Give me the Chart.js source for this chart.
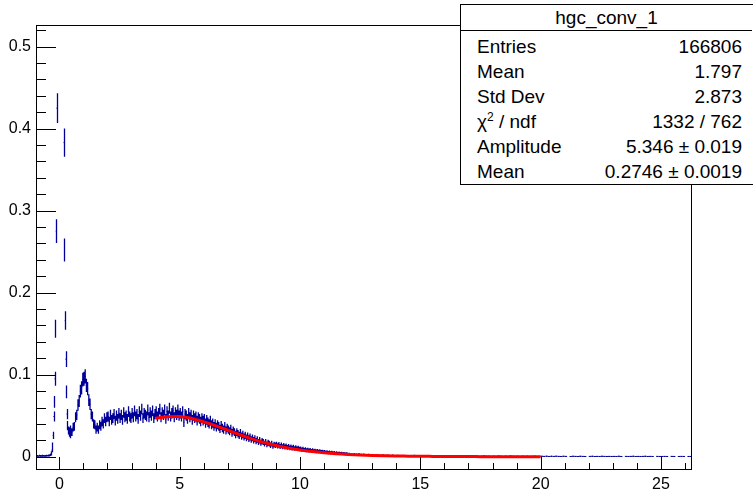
<!DOCTYPE html>
<html>
<head>
<meta charset="utf-8">
<script src="https://cdn.jsdelivr.net/npm/chart.js@4.4.1/dist/chart.umd.min.js"></script>
<style>
  html, body { margin: 0; padding: 0; background: #fff; overflow: hidden; }
  #wrap { position: relative; width: 753px; height: 490px; }
  #stats {
    position: absolute; left: 460px; top: 4px; width: 300px; height: 179px;
    border: 1px solid #000; background: #fff; color: #000;
    font-family: "Liberation Sans", Arial, sans-serif; font-size: 19px;
  }
  #stats .head {
    position: absolute; left: 0; top: 0; width: 291px; height: 25px; line-height: 25px;
    text-align: center; border-bottom: 1px solid #000;
  }
  #stats .lab { position: absolute; left: 16px; height: 25px; line-height: 25px; white-space: nowrap; }
  #stats .val { position: absolute; left: 0; width: 281px; height: 25px; line-height: 25px; text-align: right; white-space: nowrap; }
  #stats sup { font-size: 12px; vertical-align: 7px; line-height: 0; }
</style>
</head>
<body>
<div id="wrap">
  <canvas id="hgc-chart" width="753" height="490"></canvas>
  <div id="stats"></div>
</div>
<script>
// axis ranges and tick labels
const xMin = -0.97, xMax = 26.29;
const yMin = -0.0162, yMax = 0.5264;
const xTicks = [0, 5, 10, 15, 20, 25];
const yTicks = [0, 0.1, 0.2, 0.3, 0.4, 0.5];

// histogram hgc_conv_1, fine bins round the pedestal peak
const peakStart = -0.95, peakWidth = 0.025;
const peakValues = [
  0.0008, 0.0012, 0.0006, 0.0010, 0.0014, 0.0008, 0.0011, 0.0009, 0.0013, 0.0007,
  0.0010, 0.0012, 0.0009, 0.0011, 0.0008, 0.0013, 0.0010, 0.0012, 0.0015, 0.0011,
  0.0014, 0.0017, 0.0022, 0.0031, 0.0048, 0.0080, 0.0140, 0.026, 0.049, 0.067,
  0.095, 0.156, 0.275, 0.425, 0.62, 0.85, 1.05, 1.2, 1.28, 1.3,
  1.25, 1.12, 0.95, 0.78, 0.58, 0.383, 0.252, 0.166, 0.119, 0.079,
  0.052, 0.038, 0.032, 0.029, 0.031, 0.027, 0.033, 0.030
];
// main body
const bodyStart = 0.5, bodyWidth = 0.05;
const bodyValues = [
  0.030, 0.036, 0.037, 0.048, 0.051, 0.063, 0.068, 0.080, 0.084, 0.094,
  0.095, 0.098, 0.087, 0.083, 0.069, 0.064, 0.052, 0.049, 0.040, 0.039,
  0.033, 0.036, 0.033, 0.039, 0.037, 0.043, 0.040, 0.047, 0.043, 0.048,
  0.049, 0.043, 0.051, 0.045, 0.047, 0.052, 0.044, 0.050, 0.046, 0.053,
  0.047, 0.051, 0.045, 0.054, 0.048, 0.050, 0.046, 0.055, 0.049, 0.047,
  0.053, 0.048, 0.056, 0.049, 0.052, 0.046, 0.055, 0.050, 0.058, 0.047,
  0.053, 0.051, 0.049, 0.057, 0.048, 0.054, 0.050, 0.056, 0.047, 0.052,
  0.055, 0.049, 0.053, 0.058, 0.048, 0.054, 0.051, 0.057, 0.046, 0.055,
  0.050, 0.059, 0.049, 0.053, 0.056, 0.048, 0.054, 0.051, 0.057, 0.050,
  0.053, 0.049, 0.055, 0.042, 0.052, 0.050, 0.046, 0.053, 0.048, 0.051,
  0.045, 0.050, 0.047, 0.049, 0.044, 0.048, 0.046, 0.043, 0.047, 0.044,
  0.046, 0.041, 0.045, 0.042, 0.040, 0.044, 0.039, 0.041, 0.037, 0.040,
  0.036, 0.039, 0.037, 0.034, 0.038, 0.035, 0.033, 0.037, 0.032, 0.035,
  0.033, 0.031, 0.034, 0.029, 0.032, 0.030, 0.027, 0.030, 0.028, 0.026,
  0.029, 0.025, 0.027, 0.024, 0.026, 0.023, 0.025, 0.022, 0.024, 0.021,
  0.023, 0.020, 0.022, 0.019, 0.021, 0.018, 0.020, 0.017, 0.019, 0.018,
  0.016, 0.018, 0.015, 0.017, 0.016, 0.014, 0.016, 0.013, 0.015, 0.014,
  0.0150, 0.0132, 0.0146, 0.0125, 0.0140, 0.0121, 0.0135, 0.0118, 0.0129, 0.0114,
  0.0124, 0.0109, 0.0120, 0.0104, 0.0115, 0.0100, 0.0110, 0.0098, 0.0106, 0.0095,
  0.0097, 0.0086, 0.0094, 0.0082, 0.0090, 0.0079, 0.0085, 0.0075, 0.0082, 0.0072,
  0.0078, 0.0069, 0.0074, 0.0066, 0.0071, 0.0063, 0.0068, 0.0060, 0.0064, 0.0058,
  0.0061, 0.0053, 0.0058, 0.0050, 0.0055, 0.0047, 0.0052, 0.0045, 0.0049, 0.0043,
  0.0047, 0.0041, 0.0044, 0.0039, 0.0042, 0.0037, 0.0040, 0.0035, 0.0038, 0.0034
];
// long tail
const tailStart = 12, tailWidth = 0.1;
const tailValues = [
  0.0033, 0.0028, 0.0031, 0.0025, 0.0029, 0.0022, 0.0026, 0.0020, 0.0024, 0.0019,
  0.0021, 0.0016, 0.0019, 0.0014, 0.0018, 0.0013, 0.0016, 0.0012, 0.0015, 0.0011,
  0.0013, 0.0010, 0.0012, 0.0009, 0.0011, 0.0008, 0.0010, 0.0013, 0.0008, 0.0009,
  0.0010, 0.0007, 0.0009, 0.0012, 0.0006, 0.0008, 0.0010, 0.0007, 0.0009, 0.0006,
  0.0008, 0.0006, 0.0009, 0.0005, 0.0007, 0.0010, 0.0006, 0.0008, 0.0005, 0.0007,
  0.0006, 0.0008, 0.0005, 0.0007, 0.0004, 0.0006, 0.0009, 0.0005, 0.0006, 0.0004,
  0.0006, 0.0004, 0.0007, 0.0005, 0.0003, 0.0006, 0.0004, 0.0008, 0.0005, 0.0004,
  0.0005, 0.0003, 0.0006, 0.0004, 0.0005, 0.0003, 0.0004, 0.0006, 0.0003, 0.0004,
  0.0005, 0.0004, 0.0006, 0.0003, 0.0005, 0.0004, 0.0006, 0.0004, 0.0003, 0.0005,
  0.0004, 0, 0.0003, 0.0005, 0.0004, 0.0003, 0.0005, 0.0004, 0.0003, 0,
  0.0004, 0.0005, 0.0003, 0.0004, 0.0003, 0.0005, 0.0004, 0.0003, 0.0004, 0.0003,
  0.0004, 0.0003, 0.0005, 0.0003, 0, 0.0004, 0.0003, 0.0004, 0.0005, 0.0003,
  0.0004, 0.0003, 0.0004, 0.0005, 0.0003, 0.0004, 0.0003, 0, 0.0004, 0.0003,
  0.0003, 0.0004, 0.0003, 0, 0.0004, 0.0003, 0, 0.0003, 0.0004, 0.0003,
  0, 0.0003, 0.0003
];
// counts per unit of bin content, for the sqrt(N) error bars
const countsPerUnit = 1300;

// fit curve (4 .. 20)
const fitX = [4, 4.5, 5, 5.5, 6, 6.5, 7, 7.5, 8, 8.5, 9, 9.5, 10, 10.5, 11, 11.5,
  12, 12.5, 13, 13.5, 14, 14.5, 15, 15.5, 16, 16.5, 17, 17.5, 18, 18.5, 19, 19.5, 20];
const fitValues = [0.0470, 0.0486, 0.0490, 0.0466, 0.0425, 0.0377, 0.0323, 0.0268,
  0.0218, 0.0174, 0.0137, 0.0107, 0.0083, 0.0064, 0.0049, 0.0037, 0.0028, 0.0021,
  0.0016, 0.0012, 0.0009, 0.0007, 0.0005, 0.0004, 0.0003, 0.0002, 0.0002, 0.0001,
  0.0001, 0.0001, 0.0001, 0, 0];

// stats box
const statsTitle = 'hgc_conv_1';
const statLabels = ['Entries', 'Mean', 'Std Dev', '&chi;<sup>2</sup> / ndf', 'Amplitude', 'Mean'];
const statValues = ['166806', '1.797', '2.873', '1332 / 762', '5.346 &plusmn; 0.019', '0.2746 &plusmn; 0.0019'];

const histColor = '#000099';
const fitColor = '#ff0000';
const fontFamily = '"Liberation Sans", Arial, Helvetica, sans-serif';

function binsOf(start, width, values) {
  return values.map((v, i) => ({ x: start + width * (i + 0.5), y: v, w: width }));
}
const histPoints = [
  ...binsOf(peakStart, peakWidth, peakValues),
  ...binsOf(bodyStart, bodyWidth, bodyValues),
  ...binsOf(tailStart, tailWidth, tailValues)
];

//draws the histogram like ROOT "E": bin-wide line plus sqrt(N) error bar
const histErrors = {
  id: 'histErrors',
  afterDatasetDraw(chart, args) {
    if (args.index !== 0) return;
    const { ctx, chartArea: a, scales: { x, y } } = chart;
    ctx.save();
    ctx.beginPath();
    ctx.rect(a.left, a.top, a.right - a.left, a.bottom - a.top);
    ctx.clip();
    ctx.strokeStyle = histColor;
    ctx.beginPath();
    ctx.lineWidth = 1;
    for (const p of chart.data.datasets[0].data) {
      if (p.y <= 0) continue;
      const yc = y.getPixelForValue(p.y);
      ctx.moveTo(x.getPixelForValue(p.x - p.w / 2), yc);
      ctx.lineTo(x.getPixelForValue(p.x + p.w / 2), yc);
    }
    ctx.stroke();
    ctx.beginPath();
    ctx.lineWidth = 1.3;
    for (const p of chart.data.datasets[0].data) {
      if (p.y <= 0) continue;
      const e = Math.sqrt(p.y / countsPerUnit);
      // pedestal flank bins are snapped to whole pixels so the dashes stay crisp
      let xc = x.getPixelForValue(p.x);
      if (p.w < bodyWidth) xc = Math.round(xc) + 0.5;
      ctx.moveTo(xc, y.getPixelForValue(p.y + e));
      ctx.lineTo(xc, y.getPixelForValue(p.y - e));
    }
    ctx.stroke();
    ctx.restore();
  }
};

//frame and inward ticks, ROOT style
const rootFrame = {
  id: 'rootFrame',
  afterDraw(chart) {
    const { ctx, chartArea: a, scales: { x, y } } = chart;
    ctx.save();
    ctx.strokeStyle = '#000';
    ctx.lineWidth = 1;
    ctx.strokeRect(a.left + 0.5, a.top + 0.5, a.right - a.left - 1, a.bottom - a.top - 1);
    ctx.beginPath();
    // x ticks: major every 5, minor every 1
    for (let v = Math.ceil(xMin); v <= xMax; v++) {
      const px = Math.round(x.getPixelForValue(v)) + 0.5;
      const len = v % 5 === 0 ? 13 : 7;
      ctx.moveTo(px, a.bottom);
      ctx.lineTo(px, a.bottom - len);
    }
    // y ticks: major every 0.1, minor every 0.02
    for (let k = Math.ceil(yMin / 0.02); k * 0.02 <= yMax; k++) {
      const py = Math.round(y.getPixelForValue(k * 0.02)) + 0.5;
      const len = k % 5 === 0 ? 20 : 10;
      ctx.moveTo(a.left, py);
      ctx.lineTo(a.left + len, py);
    }
    ctx.stroke();
    ctx.restore();
  }
};

const hgcChart = new Chart(document.getElementById('hgc-chart'), {
  type: 'scatter',
  plugins: [histErrors, rootFrame],
  data: {
    datasets: [
      {
        label: statsTitle,
        data: histPoints,
        pointRadius: 0,
        showLine: false,
        order: 2
      },
      {
        label: 'fit',
        data: fitX.map((v, i) => ({ x: v, y: fitValues[i] })),
        showLine: true,
        borderColor: fitColor,
        borderWidth: 3,
        pointRadius: 0,
        cubicInterpolationMode: 'monotone',
        order: 1
      }
    ]
  },
  options: {
    responsive: false,
    devicePixelRatio: 1,
    animation: false,
    layout: { padding: { top: 25, right: 61, left: 0, bottom: 0 } },
    plugins: {
      legend: { display: false },
      tooltip: { enabled: false }
    },
    scales: {
      x: {
        type: 'linear',
        min: xMin,
        max: xMax,
        afterBuildTicks: (s) => { s.ticks = xTicks.map(v => ({ value: v })); },
        afterFit: (s) => { s.height = 20; },
        grid: { display: false, drawTicks: false },
        border: { display: false },
        ticks: {
          autoSkip: false, maxRotation: 0, padding: 5, color: '#000',
          font: { family: fontFamily, size: 16 },
          callback: (v) => String(v)
        }
      },
      y: {
        type: 'linear',
        min: yMin,
        max: yMax,
        afterBuildTicks: (s) => { s.ticks = yTicks.map(v => ({ value: v })); },
        afterFit: (s) => { s.width = 36; },
        grid: { display: false, drawTicks: false },
        border: { display: false },
        ticks: {
          autoSkip: false, padding: 5, color: '#000',
          font: { family: fontFamily, size: 16 },
          callback: (v) => String(v)
        }
      }
    }
  }
});

// stats box text
const stats = document.getElementById('stats');
let html = '<div class="head">' + statsTitle + '</div>';
statLabels.forEach((lab, i) => {
  const top = 29.2 + 25 * i;
  html += '<div class="lab" style="top:' + top + 'px">' + lab + '</div>';
  html += '<div class="val" style="top:' + top + 'px">' + statValues[i] + '</div>';
});
stats.innerHTML = html;
</script>
</body>
</html>
